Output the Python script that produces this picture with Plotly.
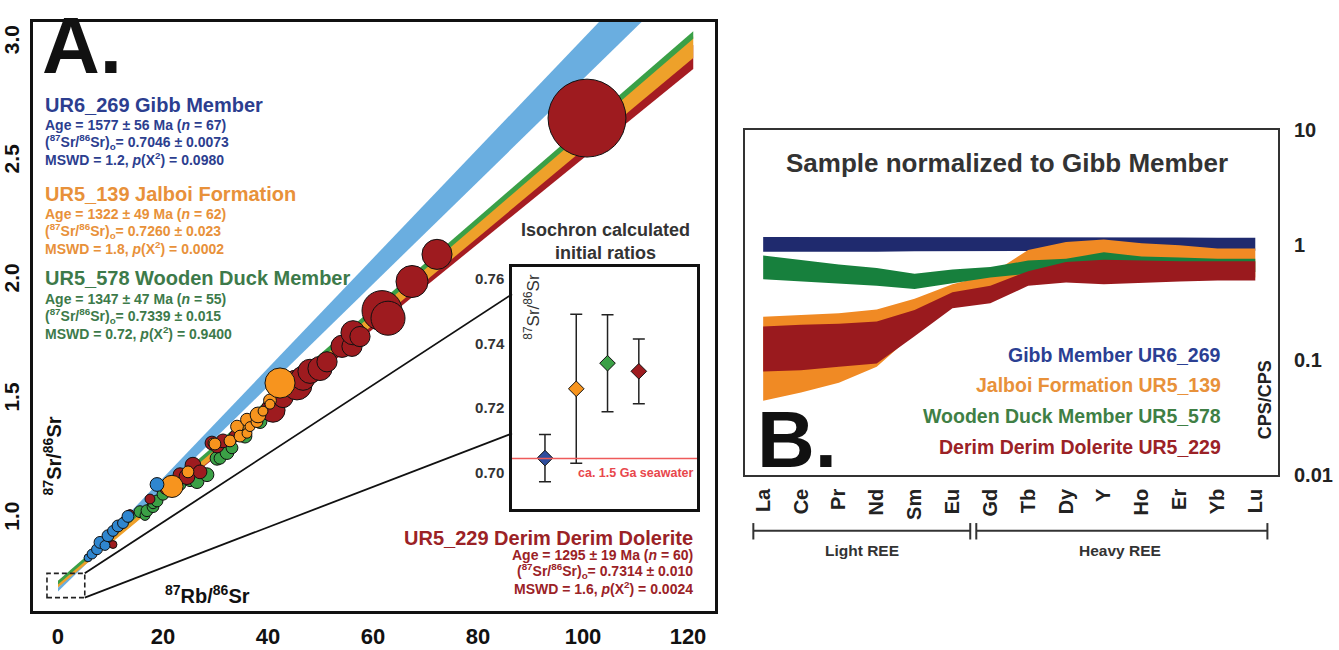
import numpy as np
import plotly.graph_objects as go

# ---------------------------------------------------------------- data
samples = ["UR6_269", "UR5_139", "UR5_578", "UR5_229"]
units = ["Gibb Member", "Jalboi Formation", "Wooden Duck Member", "Derim Derim Dolerite"]
age_ma = [1577, 1322, 1347, 1295]
age_err_ma = [56, 49, 47, 19]
n_analyses = [67, 62, 55, 60]
sr0 = [0.7046, 0.7260, 0.7339, 0.7314]
sr0_err = [0.0073, 0.023, 0.015, 0.010]
mswd = [1.2, 1.8, 0.72, 1.6]
p_chi2 = [0.0980, 0.0002, 0.9400, 0.0024]
seawater_sr = 0.7045

# 87Rb/86Sr, 87Sr/86Sr and 2-sigma (in 87Sr/86Sr units) of each spot analysis
gibb_rb = [5.71, 6.48, 7.43, 8.00, 8.95, 9.52, 10.48, 11.43, 12.38, 13.33, 18.86]
gibb_sr = [0.838, 0.854, 0.874, 0.903, 0.890, 0.931, 0.951, 0.972, 0.984, 1.012, 1.146]
gibb_err = [0.016, 0.020, 0.022, 0.024, 0.020, 0.024, 0.022, 0.024, 0.022, 0.024, 0.028]

jalboi_rb = [12.76, 21.71, 24.76, 29.52, 29.90, 32.76, 34.10, 34.67, 36.00, 36.00, 36.57,
             37.90, 38.10, 39.05, 40.38, 40.38, 42.29]
jalboi_sr = [0.996, 1.138, 1.199, 1.320, 1.316, 1.329, 1.389, 1.349, 1.418, 1.361, 1.389,
             1.410, 1.438, 1.454, 1.499, 1.483, 1.572]
jalboi_err = [0.018, 0.045, 0.024, 0.020, 0.024, 0.024, 0.026, 0.024, 0.026, 0.020, 0.020,
              0.024, 0.032, 0.020, 0.026, 0.020, 0.061]

wooden_rb = [15.62, 16.57, 16.95, 18.10, 18.10, 18.86, 20.00, 23.24, 25.14, 26.48, 28.38,
             30.29, 30.86, 32.19, 33.14, 35.62, 38.48]
wooden_sr = [1.032, 1.016, 1.036, 1.053, 1.065, 1.077, 1.105, 1.146, 1.162, 1.158, 1.187,
             1.256, 1.256, 1.280, 1.300, 1.349, 1.410]
wooden_err = [0.024, 0.020, 0.024, 0.024, 0.020, 0.024, 0.024, 0.024, 0.024, 0.028, 0.028,
              0.028, 0.024, 0.028, 0.024, 0.028, 0.028]

derim_rb = [10.48, 13.71, 17.52, 20.38, 23.24, 24.57, 25.71, 27.05, 29.33, 30.29, 31.43,
            33.71, 40.95, 42.86, 45.52, 46.67, 48.00, 49.90, 51.24, 54.10, 56.00, 56.19,
            57.52, 61.71, 62.86, 67.43, 72.19, 100.76]
derim_sr = [0.894, 1.024, 1.085, 1.126, 1.187, 1.179, 1.227, 1.199, 1.320, 1.308, 1.329,
            1.349, 1.458, 1.511, 1.564, 1.592, 1.621, 1.633, 1.661, 1.726, 1.726, 1.783,
            1.767, 1.876, 1.844, 1.998, 2.112, 2.684]
derim_err = [0.016, 0.016, 0.020, 0.020, 0.028, 0.032, 0.032, 0.028, 0.028, 0.028, 0.028,
             0.024, 0.049, 0.041, 0.061, 0.049, 0.049, 0.049, 0.041, 0.045, 0.041, 0.049,
             0.041, 0.081, 0.069, 0.065, 0.061, 0.158]

# REE pattern envelopes (CPS/CPS, normalised to Gibb Member)
ree = ["La", "Ce", "Pr", "Nd", "Sm", "Eu", "Gd", "Tb", "Dy", "Y", "Ho", "Er", "Yb", "Lu"]
gibb_hi = [1.17, 1.17, 1.17, 1.17, 1.17, 1.17, 1.17, 1.17, 1.16, 1.16, 1.16, 1.16, 1.15, 1.15]
gibb_lo = [0.87, 0.87, 0.87, 0.87, 0.88, 0.88, 0.88, 0.88, 0.88, 0.88, 0.88, 0.89, 0.89, 0.89]
jalboi_hi = [0.237, 0.245, 0.254, 0.274, 0.340, 0.455, 0.553, 0.902, 1.06, 1.11, 1.03, 0.99, 0.93, 0.93]
jalboi_lo = [0.044, 0.052, 0.063, 0.087, 0.170, 0.290, 0.360, 0.470, 0.50, 0.50, 0.50, 0.51, 0.52, 0.52]
wooden_hi = [0.807, 0.742, 0.673, 0.630, 0.560, 0.610, 0.640, 0.730, 0.757, 0.860, 0.790, 0.776, 0.757, 0.757]
wooden_lo = [0.502, 0.486, 0.461, 0.440, 0.413, 0.460, 0.520, 0.560, 0.580, 0.600, 0.580, 0.580, 0.580, 0.580]
derim_hi = [0.195, 0.202, 0.206, 0.215, 0.271, 0.387, 0.440, 0.590, 0.708, 0.742, 0.730, 0.718, 0.718, 0.718]
derim_lo = [0.079, 0.081, 0.087, 0.093, 0.160, 0.280, 0.310, 0.440, 0.470, 0.455, 0.470, 0.480, 0.490, 0.490]

LAMBDA_RB = 1.3972e-11  # 87Rb decay constant (1/yr)

# ---------------------------------------------------------------- style
W, H = 1339, 650
FONT = "Liberation Sans, Arial, Helvetica, sans-serif"
NARROW = "Liberation Sans Narrow, Arial Narrow, Liberation Sans, Arial, sans-serif"

TEXT_COL = ["#2c3e8f", "#e8913a", "#3d7a4a", "#9b2226"]
PT_COL = ["#2f86cf", "#f7941e", "#3ba046", "#9e1b1f"]
BAND_COL = ["#6aaee0", "#eea12a", "#3aa047", "#a51c22"]
DIAMOND_COL = ["#2f4e9e", "#f7941e", "#3ba046", "#9e1b1f"]
REE_COL = ["#1f2a6e", "#f08a24", "#17803d", "#9a1a1e"]
REE_TXT = ["#2b3f93", "#e8913a", "#3f7f45", "#9b2226"]
ERR_DP = [4, 3, 3, 3]

# band half-widths at x=0 and at the end of each isochron (87Sr/86Sr units)
BAND_HW = [(0.008, 0.101), (0.012, 0.045), (0.008, 0.016), (0.008, 0.050)]
ISO_XMAX = 121.0

# panel frames in pixels: (left, right, top, bottom)
A_BOX = (33, 715, 11, 621)
A_XR = [-4.76, 125.14]
A_YR = [0.615, 3.089]
I_BOX = (512, 697, 265, 515)
I_XR = [-0.054, 5.86]
I_YR = [0.689, 0.7636]
B_BOX = (745, 1278, 123, 480)
B_XR = [-0.48, 13.6]

ZOOM_X = [-2.1, 5.1]
ZOOM_Y = [0.671, 0.773]


def dom_x(box):
    return [box[0] / W, box[1] / W]


def dom_y(box):
    return [1 - box[3] / H, 1 - box[2] / H]


def pap(px, py):
    return px / W, 1 - py / H


def data_to_paper(x, y, box, xr, yr):
    px = box[0] + (x - xr[0]) / (xr[1] - xr[0]) * (box[1] - box[0])
    py = box[3] - (y - yr[0]) / (yr[1] - yr[0]) * (box[3] - box[2])
    return pap(px, py)


PX_PER_Y = (A_BOX[3] - A_BOX[2]) / (A_YR[1] - A_YR[0])

fig = go.Figure()

# ---------------------------------------------------------------- panel A: isochron bands
xs = np.linspace(0, ISO_XMAX, 80)
for i in [0, 3, 1, 2]:
    slope = np.exp(LAMBDA_RB * age_ma[i] * 1e6) - 1.0
    centre = sr0[i] + slope * xs
    hw0, hw1 = BAND_HW[i]
    hw = hw0 + (hw1 - hw0) * xs / ISO_XMAX
    fig.add_trace(go.Scatter(
        x=np.concatenate([xs, xs[::-1]]),
        y=np.concatenate([centre + hw, (centre - hw)[::-1]]),
        fill="toself", fillcolor=BAND_COL[i], line=dict(width=0),
        mode="lines", hoverinfo="skip", xaxis="x", yaxis="y"))

# ---------------------------------------------------------------- panel A: spot analyses
spots = [
    (2, wooden_rb, wooden_sr, wooden_err),
    (3, derim_rb, derim_sr, derim_err),
    (1, jalboi_rb, jalboi_sr, jalboi_err),
    (0, gibb_rb, gibb_sr, gibb_err),
]
for i, xr_, yr_, er_ in spots:
    fig.add_trace(go.Scatter(
        x=xr_, y=yr_, mode="markers",
        marker=dict(size=[2 * e * PX_PER_Y for e in er_], color=PT_COL[i],
                    line=dict(color="#111111", width=1), opacity=1),
        xaxis="x", yaxis="y", hoverinfo="skip"))

# ---------------------------------------------------------------- inset: initial ratios
fig.add_trace(go.Scatter(
    x=[1, 2, 3, 4], y=sr0, mode="markers",
    error_y=dict(type="data", array=sr0_err, color="#222222", thickness=1.5, width=6),
    marker=dict(symbol="diamond", size=12, color=DIAMOND_COL,
                line=dict(color="#111111", width=1)),
    xaxis="x2", yaxis="y2", hoverinfo="skip"))

# ---------------------------------------------------------------- panel B: REE envelopes
ree_idx = list(range(len(ree)))
for i, hi, lo in [(0, gibb_hi, gibb_lo), (1, jalboi_hi, jalboi_lo),
                  (2, wooden_hi, wooden_lo), (3, derim_hi, derim_lo)]:
    fig.add_trace(go.Scatter(
        x=ree_idx + ree_idx[::-1], y=hi + lo[::-1],
        fill="toself", fillcolor=REE_COL[i], line=dict(width=0),
        mode="lines", hoverinfo="skip", xaxis="x3", yaxis="y3"))

# ---------------------------------------------------------------- annotations
ann = []


def note(px, py, text, size, color, xa="left", ya="middle", angle=0,
         family=FONT, bold=True):
    x, y = pap(px, py)
    ann.append(dict(x=x, y=y, xref="paper", yref="paper",
                    text=f"<b>{text}</b>" if bold else text, showarrow=False,
                    xanchor=xa, yanchor=ya, textangle=angle,
                    font=dict(family=family, size=size, color=color)))


note(40, 36, "A.", 80, "#111111")

BLOCKS = [(43, [97, 118, 136, 153], "left"),
          (43, [189, 210, 228, 245], "left"),
          (43, [276, 298, 316, 333], "left"),
          (695, [545, 563, 580, 597], "right")]
for i, (bx, ys, xa) in enumerate(BLOCKS):
    note(bx, ys[0], f"{samples[i]} {units[i]}", 20, TEXT_COL[i], xa=xa)
    lines = [
        f"Age = {age_ma[i]} ± {age_err_ma[i]} Ma (<i>n</i> = {n_analyses[i]})",
        f"(<sup>87</sup>Sr/<sup>86</sup>Sr)<sub>o</sub>= {sr0[i]:.4f} ± {sr0_err[i]:.{ERR_DP[i]}f}",
        f"MSWD = {mswd[i]}, <i>p</i>(X<sup>2</sup>) = {p_chi2[i]:.4f}",
    ]
    for ly, txt in zip(ys[1:], lines):
        note(bx, ly, txt, 14, TEXT_COL[i], xa=xa)

note(208, 604, "<sup>87</sup>Rb/<sup>86</sup>Sr", 20, "#111111", xa="center")
note(52, 460, "<sup>87</sup>Sr/<sup>86</sup>Sr", 20, "#111111", xa="center", angle=-90)

# inset labels
note(605, 239, "Isochron calculated<br>initial ratios", 18, "#333333", xa="center")
note(532, 306, "<sup>87</sup>Sr/<sup>86</sup>Sr", 17, "#333333", xa="center",
     angle=-90, bold=False)
sx, sy = data_to_paper(I_XR[1], seawater_sr, I_BOX, I_XR, I_YR)
ann.append(dict(x=sx - 2 / W, y=sy - 6 / H, xref="paper", yref="paper",
                text="<b>ca. 1.5 Ga seawater</b>", showarrow=False,
                xanchor="right", yanchor="top",
                font=dict(family=FONT, size=12.5, color="#e8474c")))

# panel B labels
note(1007, 157, "Sample normalized to Gibb Member", 26, "#333333", xa="center")
for i, py in enumerate([356, 387, 419, 451]):
    note(1223, py, f"{units[i]} {samples[i]}", 19.5, REE_TXT[i], xa="right")
note(755, 444, "B.", 80, "#111111")
note(1265, 403, "CPS/CPS", 18, "#222222", xa="center", angle=-90)

for label, cx in [("Light REE", 2.62), ("Heavy REE", 9.43)]:
    ann.append(dict(x=cx, y=1 - 558 / H, xref="x3", yref="paper",
                    text=f"<b>{label}</b>", showarrow=False,
                    xanchor="center", yanchor="middle",
                    font=dict(family=FONT, size=15.5, color="#333333")))

# ---------------------------------------------------------------- shapes
shapes = []
shapes.append(dict(type="rect", xref="x", yref="y",
                   x0=ZOOM_X[0], x1=ZOOM_X[1], y0=ZOOM_Y[0], y1=ZOOM_Y[1],
                   line=dict(color="#222222", width=1.6, dash="5px,3px")))
for zy, iy in [(ZOOM_Y[1], 0.7552), (ZOOM_Y[0], 0.7122)]:
    x0, y0 = data_to_paper(ZOOM_X[1], zy, A_BOX, A_XR, A_YR)
    x1, y1 = data_to_paper(I_XR[0], iy, I_BOX, I_XR, I_YR)
    shapes.append(dict(type="line", xref="paper", yref="paper",
                       x0=x0, y0=y0, x1=x1, y1=y1,
                       line=dict(color="#111111", width=1.8)))
shapes.append(dict(type="line", xref="x2 domain", yref="y2",
                   x0=0, x1=1, y0=seawater_sr, y1=seawater_sr,
                   line=dict(color="#ee5a5a", width=1.5)))

# REE group brackets
bracket_y = 1 - 538 / H
cap_lo, cap_hi = 1 - 547 / H, 1 - 530 / H
for a, b in [(-0.26, 5.47), (5.63, 13.32)]:
    shapes.append(dict(type="line", xref="x3", yref="paper", x0=a, x1=b,
                       y0=bracket_y, y1=bracket_y, line=dict(color="#333333", width=2)))
    for c in (a, b):
        shapes.append(dict(type="line", xref="x3", yref="paper", x0=c, x1=c,
                           y0=cap_lo, y1=cap_hi, line=dict(color="#333333", width=2)))

# ---------------------------------------------------------------- axes / layout
frame = dict(showgrid=False, zeroline=False, showline=True, mirror=True, ticks="")

fig.update_layout(
    width=W, height=H, margin=dict(l=0, r=0, t=0, b=0),
    paper_bgcolor="white", plot_bgcolor="white", showlegend=False,
    font=dict(family=FONT),
    xaxis=dict(domain=dom_x(A_BOX), range=A_XR, anchor="y",
               tickvals=[0, 20, 40, 60, 80, 100, 120],
               linecolor="#111111", linewidth=2.5, ticklabelstandoff=4,
               tickfont=dict(family=NARROW, size=22, color="#111111", weight="bold"),
               **frame),
    yaxis=dict(domain=dom_y(A_BOX), range=A_YR, anchor="x",
               tickvals=[1.0, 1.5, 2.0, 2.5, 3.0],
               ticktext=["1.0", "1.5", "2.0", "2.5", "3.0"], tickangle=-90,
               linecolor="#111111", linewidth=2.5, ticklabelstandoff=3,
               tickfont=dict(family=NARROW, size=21, color="#111111", weight="bold"),
               **frame),
    xaxis2=dict(domain=dom_x(I_BOX), range=I_XR, anchor="y2",
                showticklabels=False, linecolor="#111111", linewidth=2.5, **frame),
    yaxis2=dict(domain=dom_y(I_BOX), range=I_YR, anchor="x2",
                tickvals=[0.70, 0.72, 0.74, 0.76],
                ticktext=["0.70", "0.72", "0.74", "0.76"],
                linecolor="#111111", linewidth=2.5, ticklabelstandoff=2,
                tickfont=dict(family=FONT, size=15, color="#333333", weight="bold"),
                **frame),
    xaxis3=dict(domain=dom_x(B_BOX), range=B_XR, anchor="y3",
                tickvals=ree_idx, ticktext=ree, tickangle=-90,
                linecolor="#333333", linewidth=2, ticklabelstandoff=4,
                tickfont=dict(family=FONT, size=20, color="#222222", weight="bold"),
                **frame),
    yaxis3=dict(domain=dom_y(B_BOX), type="log", range=[-2, 1], anchor="x3",
                side="right", tickvals=[0.01, 0.1, 1, 10],
                ticktext=["0.01", "0.1", "1", "10"],
                linecolor="#333333", linewidth=2, ticklabelstandoff=10,
                tickfont=dict(family=FONT, size=20, color="#222222", weight="bold"),
                **frame),
    annotations=ann,
    shapes=shapes,
)

fig.write_html("out.html")
